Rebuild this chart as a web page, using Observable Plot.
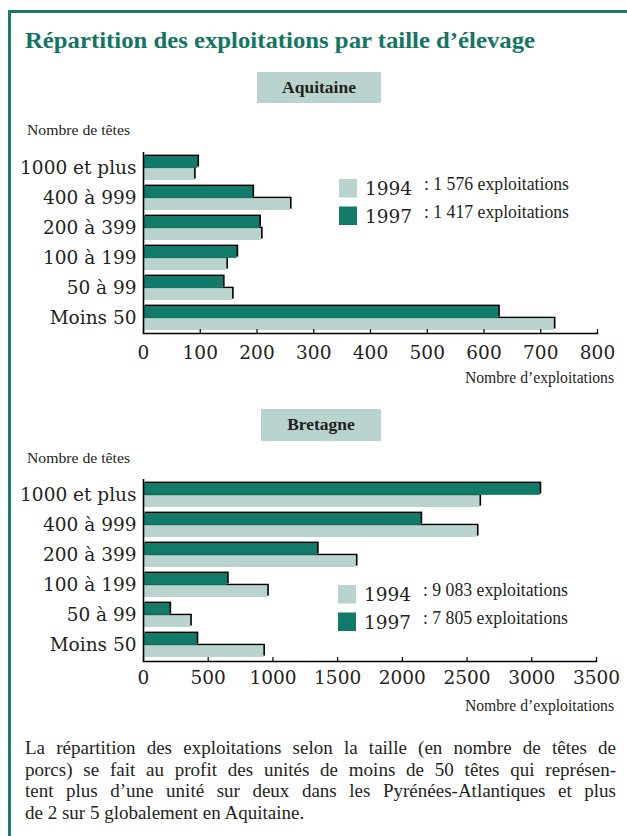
<!DOCTYPE html>
<html><head><meta charset="utf-8">
<script src="https://cdn.jsdelivr.net/npm/d3@7"></script>
<script src="https://cdn.jsdelivr.net/npm/@observablehq/plot@0.6"></script>
<style>
html,body{margin:0;padding:0;background:#fff;}
#page{position:relative;width:627px;height:836px;overflow:hidden;background:#fff;}
.chart{position:absolute;left:0;}
#overlay{position:absolute;left:0;top:0;pointer-events:none;}
#para{position:absolute;left:25px;top:737px;width:591px;font-family:"Liberation Serif",serif;font-size:19px;line-height:21.5px;color:#231f20;}
#para div.j{text-align:justify;text-align-last:justify;}
</style>
</head><body>
<div id="page">
  <div id="c1" class="chart" style="top:140px"></div>
  <div id="c2" class="chart" style="top:468px"></div>
  <svg id="overlay" width="627" height="836"></svg>
  <div id="para"></div>
</div>
<script>
// ---- data ----
const categories = ["1000 et plus", "400 à 999", "200 à 399", "100 à 199", "50 à 99", "Moins 50"];
const aquitaine1994 = [90, 259, 208, 147, 157, 724];
const aquitaine1997 = [96, 193, 205, 165, 141, 626];
const bretagne1994 = [2600, 2580, 1645, 960, 365, 930];
const bretagne1997 = [3065, 2145, 1345, 650, 205, 415];
const years = ["1994", "1997"];
const aquitaineTotals = ["1 576", "1 417"];
const bretagneTotals = ["9 083", "7 805"];
const aquitaineTicks = [0, 100, 200, 300, 400, 500, 600, 700, 800];
const bretagneTicks = [0, 500, 1000, 1500, 2000, 2500, 3000, 3500];
const regions = ["Aquitaine", "Bretagne"];
const title = "Répartition des exploitations par taille d’élevage";
const yLabel = "Nombre de têtes";
const xLabel = "Nombre d’exploitations";
const paragraph = [
  "La répartition des exploitations selon la taille (en nombre de têtes de",
  "porcs) se fait au profit des unités de moins de 50 têtes qui représen-",
  "tent plus d’une unité sur deux dans les Pyrénées-Atlantiques et plus",
  "de 2 sur 5 globalement en Aquitaine."
];

const DARK = "#117a69", LIGHT = "#b9d4cf", INK = "#231f20", BORDER = "#1a7d6c", TITLE = "#137563";
const PI = 0.21, PO = 0.066;

function chart(v94, v97, xmax, ticks, marginTop, plotH, marginRight, marginBottom, tickPad) {
  const rows94 = categories.map((c, i) => ({cat: c, value: v94[i]}));
  const rows97 = categories.map((c, i) => ({cat: c, value: v97[i]}));
  const step = plotH / (categories.length - PI + 2 * PO);
  const half = step * (1 - PI) / 2;
  return Plot.plot({
    width: 627, height: marginTop + plotH + marginBottom,
    marginLeft: 143, marginRight, marginTop, marginBottom,
    style: {fontFamily: "DejaVu Serif", fontSize: "18.5px", color: INK, background: "transparent", overflow: "visible"},
    x: {domain: [0, xmax]},
    y: {domain: categories, paddingInner: PI, paddingOuter: PO},
    marks: [
      Plot.barX(rows94, {x: "value", y: "cat", insetTop: half, fill: "#000", dx: 1.6, dy: -1.4}),
      Plot.barX(rows94, {x: "value", y: "cat", insetTop: half, fill: LIGHT}),
      Plot.barX(rows97, {x: "value", y: "cat", insetBottom: half, fill: "#000", dx: 1.6, dy: -1.4}),
      Plot.barX(rows97, {x: "value", y: "cat", insetBottom: half, fill: DARK}),
      Plot.ruleX(ticks, {insetTop: plotH - 4, stroke: "#000", strokeWidth: 1.2}),
      Plot.ruleX([0], {stroke: "#000", strokeWidth: 1.6}),
      Plot.frame({anchor: "bottom", stroke: "#000", strokeWidth: 1.6}),
      Plot.axisY({tickSize: 0, tickPadding: 7, label: null, fill: INK}),
      Plot.axisX({ticks, tickSize: 0, tickPadding: tickPad, label: null, tickFormat: "d", fill: INK})
    ]
  });
}

document.getElementById("c1").appendChild(chart(aquitaine1994, aquitaine1997, 800, aquitaineTicks, 12, 181, 30, 37, 12));
document.getElementById("c2").appendChild(chart(bretagne1994, bretagne1997, 3500, bretagneTicks, 11, 182, 31, 40, 9));

// ---- overlay texts ----
const svg = d3.select("#overlay");
svg.append("line").attr("x1", 8).attr("x2", 627).attr("y1", 11.5).attr("y2", 11.5).attr("stroke", BORDER).attr("stroke-width", 3);
svg.append("line").attr("x1", 9.5).attr("x2", 9.5).attr("y1", 10).attr("y2", 836).attr("stroke", BORDER).attr("stroke-width", 3);
svg.append("text").attr("x", 25).attr("y", 48).attr("font-family", "Liberation Serif").attr("font-weight", "bold")
  .attr("font-size", 23.5).attr("fill", TITLE).attr("textLength", 510).attr("lengthAdjust", "spacingAndGlyphs").text(title);

function panel(name, boxX, boxY, boxW, boxH, headY, legX, legY, totals, xlabY) {
  svg.append("rect").attr("x", boxX).attr("y", boxY).attr("width", boxW).attr("height", boxH).attr("fill", LIGHT);
  svg.append("text").attr("x", boxX + boxW / 2).attr("y", boxY + 21).attr("text-anchor", "middle")
    .attr("font-family", "Liberation Serif").attr("font-weight", "bold").attr("font-size", 17.5).attr("fill", INK).text(name);
  svg.append("text").attr("x", 27).attr("y", headY).attr("font-family", "Liberation Serif").attr("font-size", 15.5)
    .attr("fill", INK).attr("textLength", 103).attr("lengthAdjust", "spacingAndGlyphs").text(yLabel);
  years.forEach((yr, i) => {
    const y0 = legY + i * 27.5;
    svg.append("rect").attr("x", legX).attr("y", y0).attr("width", 18).attr("height", 18.5).attr("fill", i === 0 ? LIGHT : DARK);
    svg.append("text").attr("x", legX + 26).attr("y", y0 + 16).attr("font-family", "DejaVu Serif").attr("font-size", 18.5)
      .attr("fill", INK).text(yr);
    svg.append("text").attr("x", legX + 85).attr("y", y0 + 11).attr("font-family", "Liberation Serif").attr("font-size", 18.5)
      .attr("fill", INK).attr("textLength", 145).attr("lengthAdjust", "spacingAndGlyphs").text(": " + totals[i] + " exploitations");
  });
  svg.append("text").attr("x", 614).attr("y", xlabY).attr("text-anchor", "end").attr("font-family", "Liberation Serif")
    .attr("font-size", 16.5).attr("fill", INK).attr("textLength", 149).attr("lengthAdjust", "spacingAndGlyphs").text(xLabel);
}
panel(regions[0], 257, 72, 124, 31, 135, 339, 179, aquitaineTotals, 383);
panel(regions[1], 261, 409, 120, 32, 463, 338, 585, bretagneTotals, 711);

const para = d3.select("#para");
paragraph.forEach((line, i) => {
  para.append("div").attr("class", i < paragraph.length - 1 ? "j" : "").text(line);
});
</script>
</body></html>
